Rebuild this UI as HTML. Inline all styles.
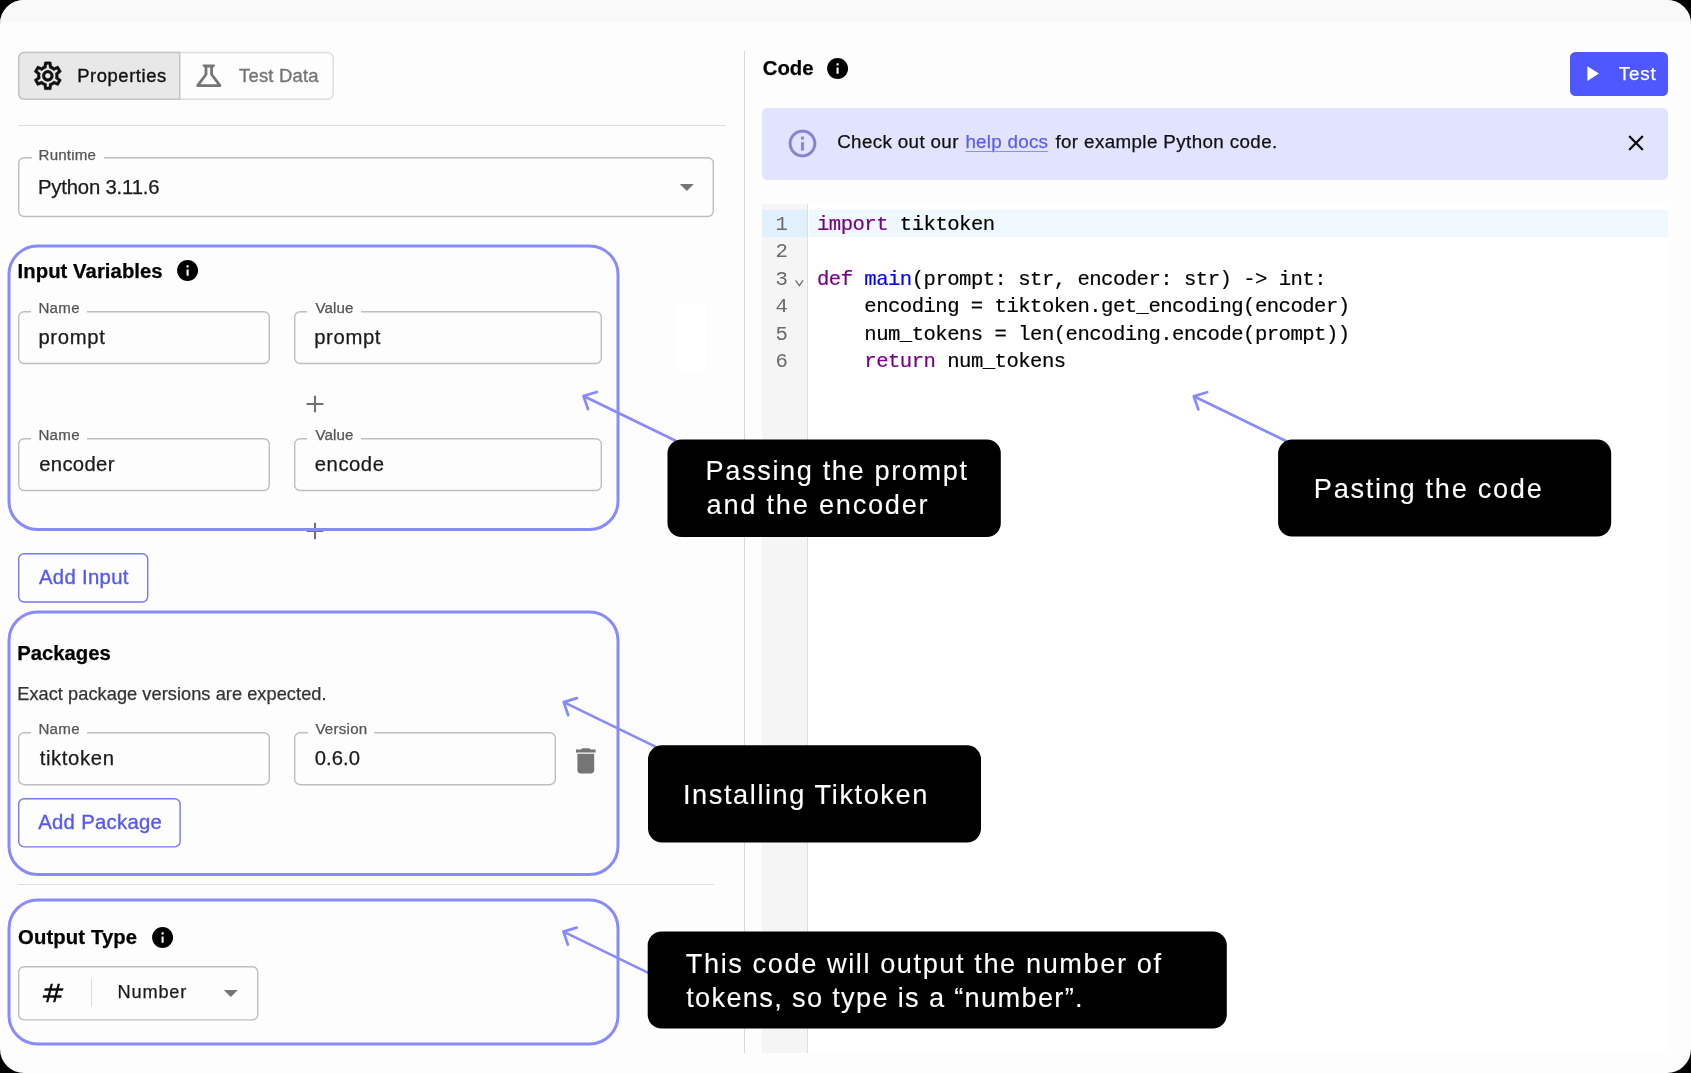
<!DOCTYPE html>
<html><head><meta charset="utf-8"><title>Code node</title>
<style>
html,body{margin:0;padding:0;background:#000;}
body{width:1691px;height:1073px;overflow:hidden;font-family:"Liberation Sans",sans-serif;}
#frame{will-change:transform;position:absolute;left:0;top:0;width:1691px;height:1073px;border-radius:24px;overflow:hidden;background:#fdfdfd;}
.a{position:absolute;}
.t{position:absolute;white-space:nowrap;font-family:"Liberation Sans",sans-serif;-webkit-text-stroke:0.25px currentColor;}
.md{-webkit-text-stroke:0.36px currentColor;}
.ns{-webkit-text-stroke:0.1px currentColor;}
.m{position:absolute;white-space:pre;font-family:"Liberation Mono",monospace;-webkit-text-stroke:0.18px currentColor;}
</style></head><body><div id="frame">

<div class="a" style="left:0.00px;top:0.00px;width:1691.00px;height:22.00px;background:#f9f9f9;"></div>
<svg class="a" style="left:0;top:40px" width="360" height="70"><rect x="18.7" y="12.6" width="314.5" height="46.7" rx="5.5" fill="#fdfdfd" stroke="#dedede" stroke-width="1.5"/><path d="M24.2 12.6 H179.7 V59.3 H24.2 A5.5 5.5 0 0 1 18.7 53.8 V18.1 A5.5 5.5 0 0 1 24.2 12.6 Z" fill="#e8e8e8" stroke="#c2c2c2" stroke-width="1.5"/></svg>
<svg class="a" style="left:31.30px;top:59.00px" width="33.6" height="33.6" viewBox="0 0 24 24" fill="#111" stroke="#111" stroke-width="0.22"><path d="M19.43 12.98c.04-.32.07-.64.07-.98 0-.34-.03-.66-.07-.98l2.11-1.65c.19-.15.24-.42.12-.64l-2-3.46c-.09-.16-.26-.25-.44-.25-.06 0-.12.01-.17.03l-2.49 1c-.52-.4-1.08-.73-1.69-.98l-.38-2.65C14.46 2.18 14.25 2 14 2h-4c-.25 0-.46.18-.49.42l-.38 2.65c-.61.25-1.17.59-1.69.98l-2.49-1c-.06-.02-.12-.03-.18-.03-.17 0-.34.09-.43.25l-2 3.46c-.13.22-.07.49.12.64l2.11 1.65c-.04.32-.07.65-.07.98 0 .33.03.66.07.98l-2.11 1.65c-.19.15-.24.42-.12.64l2 3.46c.09.16.26.25.44.25.06 0 .12-.01.17-.03l2.49-1c.52.4 1.08.73 1.69.98l.38 2.65c.03.24.24.42.49.42h4c.25 0 .46-.18.49-.42l.38-2.65c.61-.25 1.17-.59 1.69-.98l2.49 1c.06.02.12.03.18.03.17 0 .34-.09.43-.25l2-3.46c.12-.22.07-.49-.12-.64l-2.11-1.65zm-1.98-1.71c.04.31.05.52.05.73 0 .21-.02.43-.05.73l-.14 1.13.89.7 1.08.84-.7 1.21-1.27-.51-1.04-.42-.9.68c-.43.32-.84.56-1.25.73l-1.06.43-.16 1.13-.2 1.35h-1.4l-.19-1.35-.16-1.13-1.06-.43c-.43-.18-.83-.41-1.23-.71l-.91-.7-1.06.43-1.27.51-.7-1.21 1.08-.84.89-.7-.14-1.13c-.03-.31-.05-.54-.05-.74s.02-.43.05-.73l.14-1.13-.89-.7-1.08-.84.7-1.21 1.27.51 1.04.42.9-.68c.43-.32.84-.56 1.25-.73l1.06-.43.16-1.13.2-1.35h1.39l.19 1.35.16 1.13 1.06.43c.43.18.83.41 1.23.71l.91.7 1.06-.43 1.27-.51.7 1.21-1.07.85-.89.7.14 1.13zM12 8c-2.21 0-4 1.79-4 4s1.79 4 4 4 4-1.79 4-4-1.79-4-4-4zm0 6c-1.1 0-2-.9-2-2s.9-2 2-2 2 .9 2 2-.9 2-2 2z"/></svg>
<div class="t md" style="left:77.20px;top:67.00px;font-size:18.4px;line-height:18.4px;letter-spacing:0.578px;color:#111;">Properties</div>
<svg class="a" style="left:191.90px;top:59.40px" width="33.6" height="33.6" viewBox="0 0 24 24" fill="#757575" ><path d="M13,11.33L18,18H6l5-6.67V6h2 M15.96,4H8.04C7.62,4,7.39,4.48,7.65,4.81L9,6.5v4.17L3.2,18.4C2.71,19.06,3.18,20,4,20h16 c0.82,0,1.29-0.94,0.8-1.6L15,10.67V6.5l1.35-1.69C16.61,4.48,16.38,4,15.96,4L15.96,4z"/></svg>
<div class="t md" style="left:239.00px;top:67.00px;font-size:18.4px;line-height:18.4px;letter-spacing:0.231px;color:#757575;">Test Data</div>
<div class="a" style="left:18.00px;top:124.60px;width:708.00px;height:1.40px;background:#dcdcdc;"></div>
<svg class="a" style="left:15.00px;top:154.30px" width="702.00" height="66.20"><rect x="3.70" y="3.70" width="694.60" height="58.80" rx="5.5" ry="5.5" fill="none" stroke="#bebebe" stroke-width="1.4" /></svg>
<div class="a" style="left:31.50px;top:156.30px;width:72.30px;height:4.00px;background:#fdfdfd;"></div>
<div class="t " style="left:38.60px;top:147.00px;font-size:15.1px;line-height:15.1px;letter-spacing:0.170px;color:#555;">Runtime</div>
<div class="t " style="left:37.90px;top:177.00px;font-size:20.3px;line-height:20.3px;letter-spacing:-0.167px;color:#1a1a1a;">Python 3.11.6</div>
<div class="a" style="left:30.00px;top:140.00px;width:80.00px;height:10.20px;background:#fdfdfd;"></div>
<svg class="a" style="left:669.90px;top:170.00px" width="33.6" height="33.6" viewBox="0 0 24 24" fill="#757575" ><path d="M7 10l5 5 5-5z"/></svg>
<div class="a" style="left:744.30px;top:51.30px;width:1.20px;height:1001.30px;background:#d8d8d8;"></div>
<div class="a" style="left:674.50px;top:302.50px;width:31.20px;height:67.20px;background:#fff;border-radius:4px;"></div>
<div class="t " style="left:17.60px;top:261.00px;font-size:20.3px;line-height:20.3px;letter-spacing:0.055px;color:#000;font-weight:bold;">Input Variables</div>
<svg class="a" style="left:174.80px;top:257.70px" width="25.2" height="25.2" viewBox="0 0 24 24" fill="#000" ><path d="M12 2C6.48 2 2 6.48 2 12s4.48 10 10 10 10-4.48 10-10S17.52 2 12 2zm1 15h-2v-6h2v6zm0-8h-2V7h2v2z"/></svg>
<svg class="a" style="left:15.00px;top:308.30px" width="258.00" height="59.20"><rect x="3.70" y="3.70" width="250.60" height="51.80" rx="5.5" ry="5.5" fill="none" stroke="#bebebe" stroke-width="1.4" /></svg>
<div class="a" style="left:31.20px;top:310.30px;width:55.80px;height:4.00px;background:#fdfdfd;"></div>
<div class="t " style="left:38.40px;top:300.00px;font-size:15.1px;line-height:15.1px;letter-spacing:0.309px;color:#555;">Name</div>
<div class="t " style="left:38.40px;top:327.00px;font-size:20.3px;line-height:20.3px;letter-spacing:0.675px;color:#1a1a1a;">prompt</div>
<svg class="a" style="left:291.00px;top:308.30px" width="314.00" height="59.20"><rect x="3.70" y="3.70" width="306.60" height="51.80" rx="5.5" ry="5.5" fill="none" stroke="#bebebe" stroke-width="1.4" /></svg>
<div class="a" style="left:307.20px;top:310.30px;width:53.80px;height:4.00px;background:#fdfdfd;"></div>
<div class="t " style="left:315.40px;top:300.00px;font-size:15.1px;line-height:15.1px;letter-spacing:0.141px;color:#555;">Value</div>
<div class="t " style="left:314.20px;top:327.00px;font-size:20.3px;line-height:20.3px;letter-spacing:0.635px;color:#1a1a1a;">prompt</div>
<svg class="a" style="left:303.40px;top:391.90px" width="24" height="24"><path d="M3.6 12 H20.4 M12 3.8 V20.2" fill="none" stroke="#707070" stroke-width="2.05"/></svg>
<svg class="a" style="left:15.00px;top:435.00px" width="258.00" height="59.20"><rect x="3.70" y="3.70" width="250.60" height="51.80" rx="5.5" ry="5.5" fill="none" stroke="#bebebe" stroke-width="1.4" /></svg>
<div class="a" style="left:31.20px;top:437.00px;width:55.80px;height:4.00px;background:#fdfdfd;"></div>
<div class="t " style="left:38.40px;top:427.00px;font-size:15.1px;line-height:15.1px;letter-spacing:0.309px;color:#555;">Name</div>
<div class="t " style="left:39.20px;top:454.00px;font-size:20.3px;line-height:20.3px;letter-spacing:0.325px;color:#1a1a1a;">encoder</div>
<svg class="a" style="left:291.00px;top:435.00px" width="314.00" height="59.20"><rect x="3.70" y="3.70" width="306.60" height="51.80" rx="5.5" ry="5.5" fill="none" stroke="#bebebe" stroke-width="1.4" /></svg>
<div class="a" style="left:307.20px;top:437.00px;width:53.80px;height:4.00px;background:#fdfdfd;"></div>
<div class="t " style="left:315.40px;top:427.00px;font-size:15.1px;line-height:15.1px;letter-spacing:0.141px;color:#555;">Value</div>
<div class="t " style="left:314.80px;top:454.00px;font-size:20.3px;line-height:20.3px;letter-spacing:0.521px;color:#1a1a1a;">encode</div>
<svg class="a" style="left:303.40px;top:518.90px" width="24" height="24"><path d="M3.6 12 H20.4 M12 3.8 V20.2" fill="none" stroke="#707070" stroke-width="2.05"/></svg>
<svg class="a" style="left:15.00px;top:549.50px" width="136.40" height="55.70"><rect x="3.70" y="3.70" width="129.00" height="48.30" rx="5.5" ry="5.5" fill="none" stroke="#7578f7" stroke-width="1.4" /></svg>
<div class="t md" style="left:39.00px;top:567.00px;font-size:20.3px;line-height:20.3px;letter-spacing:0.325px;color:#5558f5;">Add Input</div>
<div class="t " style="left:17.20px;top:643.00px;font-size:20.3px;line-height:20.3px;letter-spacing:-0.010px;color:#000;font-weight:bold;">Packages</div>
<div class="t " style="left:17.20px;top:685.00px;font-size:18.2px;line-height:18.2px;letter-spacing:0.057px;color:#333;">Exact package versions are expected.</div>
<svg class="a" style="left:15.00px;top:729.15px" width="258.00" height="59.40"><rect x="3.70" y="3.70" width="250.60" height="52.00" rx="5.5" ry="5.5" fill="none" stroke="#bebebe" stroke-width="1.4" /></svg>
<div class="a" style="left:31.20px;top:731.15px;width:55.80px;height:4.00px;background:#fdfdfd;"></div>
<div class="t " style="left:38.40px;top:721.00px;font-size:15.1px;line-height:15.1px;letter-spacing:0.309px;color:#555;">Name</div>
<div class="t " style="left:39.70px;top:748.00px;font-size:20.3px;line-height:20.3px;letter-spacing:0.628px;color:#1a1a1a;">tiktoken</div>
<svg class="a" style="left:291.00px;top:729.15px" width="268.00" height="59.40"><rect x="3.70" y="3.70" width="260.60" height="52.00" rx="5.5" ry="5.5" fill="none" stroke="#bebebe" stroke-width="1.4" /></svg>
<div class="a" style="left:307.50px;top:731.15px;width:66.70px;height:4.00px;background:#fdfdfd;"></div>
<div class="t " style="left:315.40px;top:721.00px;font-size:15.1px;line-height:15.1px;letter-spacing:0.249px;color:#555;">Version</div>
<div class="t " style="left:314.80px;top:748.00px;font-size:20.3px;line-height:20.3px;letter-spacing:0.033px;color:#1a1a1a;">0.6.0</div>
<svg class="a" style="left:568.80px;top:744.30px" width="33.6" height="33.6" viewBox="0 0 24 24" fill="#757575" ><path d="M6 19c0 1.1.9 2 2 2h8c1.1 0 2-.9 2-2V7H6v12zM19 4h-3.5l-1-1h-5l-1 1H5v2h14V4z"/></svg>
<svg class="a" style="left:15.00px;top:794.90px" width="168.80" height="55.60"><rect x="3.70" y="3.70" width="161.40" height="48.20" rx="5.5" ry="5.5" fill="none" stroke="#7578f7" stroke-width="1.4" /></svg>
<div class="t md" style="left:38.20px;top:812.00px;font-size:20.3px;line-height:20.3px;letter-spacing:0.306px;color:#5558f5;">Add Package</div>
<div class="a" style="left:18.00px;top:883.50px;width:696.00px;height:1.50px;background:#dedede;"></div>
<div class="t " style="left:18.00px;top:927.00px;font-size:20.3px;line-height:20.3px;letter-spacing:0.116px;color:#000;font-weight:bold;">Output Type</div>
<svg class="a" style="left:150.20px;top:925.30px" width="25.2" height="25.2" viewBox="0 0 24 24" fill="#000" ><path d="M12 2C6.48 2 2 6.48 2 12s4.48 10 10 10 10-4.48 10-10S17.52 2 12 2zm1 15h-2v-6h2v6zm0-8h-2V7h2v2z"/></svg>
<svg class="a" style="left:15.00px;top:962.60px" width="246.40" height="60.60"><rect x="3.70" y="3.70" width="239.00" height="53.20" rx="5.5" ry="5.5" fill="none" stroke="#bebebe" stroke-width="1.4" /></svg>
<svg class="a" style="left:39.40px;top:978.70px" width="28" height="28" viewBox="0 0 24 24" fill="#111" ><path d="M20.5,10L21,8h-4l1-4h-2l-1,4h-4l1-4h-2L9,8H5l-0.5,2h4l-1,4h-4L3,16h4l-1,4h2l1-4h4l-1,4h2l1-4h4l0.5-2h-4l1-4H20.5z M13.5,14h-4l1-4h4L13.5,14z"/></svg>
<div class="a" style="left:90.60px;top:979.00px;width:1.40px;height:28.00px;background:#dcdcdc;"></div>
<div class="t " style="left:117.50px;top:983.00px;font-size:18.2px;line-height:18.2px;letter-spacing:0.829px;color:#1a1a1a;">Number</div>
<svg class="a" style="left:213.90px;top:976.30px" width="33.6" height="33.6" viewBox="0 0 24 24" fill="#757575" ><path d="M7 10l5 5 5-5z"/></svg>
<div class="t " style="left:762.80px;top:58.00px;font-size:20.3px;line-height:20.3px;letter-spacing:0.005px;color:#000;font-weight:bold;">Code</div>
<svg class="a" style="left:825.10px;top:55.90px" width="25.2" height="25.2" viewBox="0 0 24 24" fill="#000" ><path d="M12 2C6.48 2 2 6.48 2 12s4.48 10 10 10 10-4.48 10-10S17.52 2 12 2zm1 15h-2v-6h2v6zm0-8h-2V7h2v2z"/></svg>
<div class="a" style="left:1569.90px;top:51.90px;width:98.20px;height:43.90px;background:#4f57ff;border-radius:5.5px;"></div>
<svg class="a" style="left:1579.30px;top:60.75px" width="25.2" height="25.2" viewBox="0 0 24 24" fill="#fff" ><path d="M8 5v14l11-7z"/></svg>
<div class="t " style="left:1618.80px;top:65.00px;font-size:18.8px;line-height:18.8px;letter-spacing:0.847px;color:#fff;">Test</div>
<div class="a" style="left:762.10px;top:108.00px;width:906.10px;height:72.10px;background:#e2e3fe;border-radius:5.5px;"></div>
<svg class="a" style="left:786.20px;top:127.40px" width="33" height="33" viewBox="0 0 24 24" fill="#8781d2" stroke="#8781d2" stroke-width="0.15"><path d="M11 7h2v2h-2zm0 4h2v6h-2zm1-9C6.48 2 2 6.48 2 12s4.48 10 10 10 10-4.48 10-10S17.52 2 12 2zm0 18c-4.41 0-8-3.59-8-8s3.59-8 8-8 8 3.59 8 8-3.59 8-8 8z"/></svg>
<div class="t " style="left:837.20px;top:133.00px;font-size:18.8px;line-height:18.8px;letter-spacing:0.360px;color:#111;">Check out our</div>
<div class="t " style="left:965.40px;top:133.00px;font-size:18.8px;line-height:18.8px;letter-spacing:0.267px;color:#5b5ef2;text-decoration:underline;text-underline-offset:3px;text-decoration-thickness:1px;text-decoration-color:#8d8ff5;">help docs</div>
<div class="t " style="left:1055.40px;top:133.00px;font-size:18.8px;line-height:18.8px;letter-spacing:0.384px;color:#111;">for example Python code.</div>
<svg class="a" style="left:1623.65px;top:130.95px" width="24" height="24"><path d="M5.8 5.8 L18.2 18.2 M18.2 5.8 L5.8 18.2" fill="none" stroke="#0a0a0a" stroke-width="2.3" stroke-linecap="round"/></svg>
<div class="a" style="left:762.10px;top:204.00px;width:906.10px;height:848.60px;background:#ffffff;"></div>
<div class="a" style="left:762.10px;top:204.00px;width:45.10px;height:848.60px;background:#f5f5f5;"></div>
<div class="a" style="left:807.30px;top:204.00px;width:1.20px;height:848.60px;background:#dedede;"></div>
<div class="a" style="left:808.60px;top:209.90px;width:859.60px;height:27.04px;background:#f0f8ff;"></div>
<div class="a" style="left:762.10px;top:209.90px;width:45.10px;height:27.04px;background:#e0f0ff;"></div>
<div class="m" style="left:775.60px;top:215.00px;font-size:20.6px;line-height:20.6px;letter-spacing:-0.522px;color:#6a6a6a;-webkit-text-stroke:0;">1</div>
<div class="m" style="left:817.00px;top:215.00px;font-size:20.6px;line-height:20.6px;letter-spacing:-0.522px;color:#770088;">import</div>
<div class="m" style="left:888.04px;top:215.00px;font-size:20.6px;line-height:20.6px;letter-spacing:-0.522px;color:#000;"> tiktoken</div>
<div class="m" style="left:775.60px;top:242.00px;font-size:20.6px;line-height:20.6px;letter-spacing:-0.522px;color:#6a6a6a;-webkit-text-stroke:0;">2</div>
<div class="m" style="left:775.60px;top:270.00px;font-size:20.6px;line-height:20.6px;letter-spacing:-0.522px;color:#6a6a6a;-webkit-text-stroke:0;">3</div>
<div class="m" style="left:817.00px;top:270.00px;font-size:20.6px;line-height:20.6px;letter-spacing:-0.522px;color:#770088;">def</div>
<div class="m" style="left:852.52px;top:270.00px;font-size:20.6px;line-height:20.6px;letter-spacing:-0.522px;color:#000;"> </div>
<div class="m" style="left:864.36px;top:270.00px;font-size:20.6px;line-height:20.6px;letter-spacing:-0.522px;color:#0000ff;">main</div>
<div class="m" style="left:911.72px;top:270.00px;font-size:20.6px;line-height:20.6px;letter-spacing:-0.522px;color:#000;">(prompt: str, encoder: str) -&gt; int:</div>
<div class="m" style="left:775.60px;top:297.00px;font-size:20.6px;line-height:20.6px;letter-spacing:-0.522px;color:#6a6a6a;-webkit-text-stroke:0;">4</div>
<div class="m" style="left:817.00px;top:297.00px;font-size:20.6px;line-height:20.6px;letter-spacing:-0.522px;color:#000;">    encoding = tiktoken.get_encoding(encoder)</div>
<div class="m" style="left:775.60px;top:325.00px;font-size:20.6px;line-height:20.6px;letter-spacing:-0.522px;color:#6a6a6a;-webkit-text-stroke:0;">5</div>
<div class="m" style="left:817.00px;top:325.00px;font-size:20.6px;line-height:20.6px;letter-spacing:-0.522px;color:#000;">    num_tokens = len(encoding.encode(prompt))</div>
<div class="m" style="left:775.60px;top:352.00px;font-size:20.6px;line-height:20.6px;letter-spacing:-0.522px;color:#6a6a6a;-webkit-text-stroke:0;">6</div>
<div class="m" style="left:817.00px;top:352.00px;font-size:20.6px;line-height:20.6px;letter-spacing:-0.522px;color:#770088;">    </div>
<div class="m" style="left:864.36px;top:352.00px;font-size:20.6px;line-height:20.6px;letter-spacing:-0.522px;color:#770088;">return</div>
<div class="m" style="left:935.40px;top:352.00px;font-size:20.6px;line-height:20.6px;letter-spacing:-0.522px;color:#000;"> num_tokens</div>
<svg class="a" style="left:793px;top:277px" width="14" height="14" viewBox="0 0 14 14"><path d="M2.6 3.3 L6.3 8.6 L10 3.3" fill="none" stroke="#6c6c6c" stroke-width="1.3"/></svg>
<svg class="a" style="left:0;top:0" width="1691" height="1073" viewBox="0 0 1691 1073" fill="none" stroke="#888bfe" stroke-linecap="round" stroke-linejoin="round"><rect x="9.0" y="245.9" width="609.0" height="283.6" rx="28.5" ry="28.5" stroke-width="3"/><rect x="9.0" y="612.0" width="609.0" height="262.5" rx="28.5" ry="28.5" stroke-width="3"/><rect x="9.0" y="900.0" width="609.0" height="144.0" rx="28.5" ry="28.5" stroke-width="3"/><path d="M675.1 440.5 L583.5 396.0 M596.8 392.0 L583.5 396.0 L588.0 409.2" stroke-width="2.7"/><path d="M1285.4 440.7 L1193.8 396.2 M1207.1 392.2 L1193.8 396.2 L1198.3 409.4" stroke-width="2.7"/><path d="M655.3 746.6 L563.7 702.1 M577.0 698.1 L563.7 702.1 L568.2 715.3" stroke-width="2.7"/><path d="M655.0 976.1 L563.4 931.6 M576.7 927.6 L563.4 931.6 L567.9 944.8" stroke-width="2.7"/></svg>
<svg class="a" style="left:665px;top:437px" width="337.8" height="102.0"><rect x="2.50" y="2.40" width="333.30" height="97.60" rx="14" ry="14" fill="#000"/></svg>
<div class="t ns" style="left:705.60px;top:457.00px;font-size:27.2px;line-height:27.2px;letter-spacing:1.599px;color:#fff;">Passing the prompt</div>
<div class="t ns" style="left:706.60px;top:491.00px;font-size:27.2px;line-height:27.2px;letter-spacing:1.755px;color:#fff;">and the encoder</div>
<svg class="a" style="left:1276px;top:437px" width="337.2" height="101.6"><rect x="2.10" y="2.60" width="333.10" height="97.00" rx="14" ry="14" fill="#000"/></svg>
<div class="t ns" style="left:1313.80px;top:475.00px;font-size:27.2px;line-height:27.2px;letter-spacing:1.695px;color:#fff;">Pasting the code</div>
<svg class="a" style="left:646px;top:743px" width="337.0" height="101.5"><rect x="2.00" y="2.30" width="333.00" height="97.20" rx="14" ry="14" fill="#000"/></svg>
<div class="t ns" style="left:683.00px;top:781.00px;font-size:27.2px;line-height:27.2px;letter-spacing:1.569px;color:#fff;">Installing Tiktoken</div>
<svg class="a" style="left:645px;top:929px" width="583.8" height="101.6"><rect x="2.70" y="2.50" width="579.10" height="97.10" rx="14" ry="14" fill="#000"/></svg>
<div class="t ns" style="left:685.80px;top:950.00px;font-size:27.2px;line-height:27.2px;letter-spacing:1.574px;color:#fff;">This code will output the number of</div>
<div class="t ns" style="left:686.20px;top:984.00px;font-size:27.2px;line-height:27.2px;letter-spacing:1.321px;color:#fff;">tokens, so type is a “number”.</div>
</div></body></html>
